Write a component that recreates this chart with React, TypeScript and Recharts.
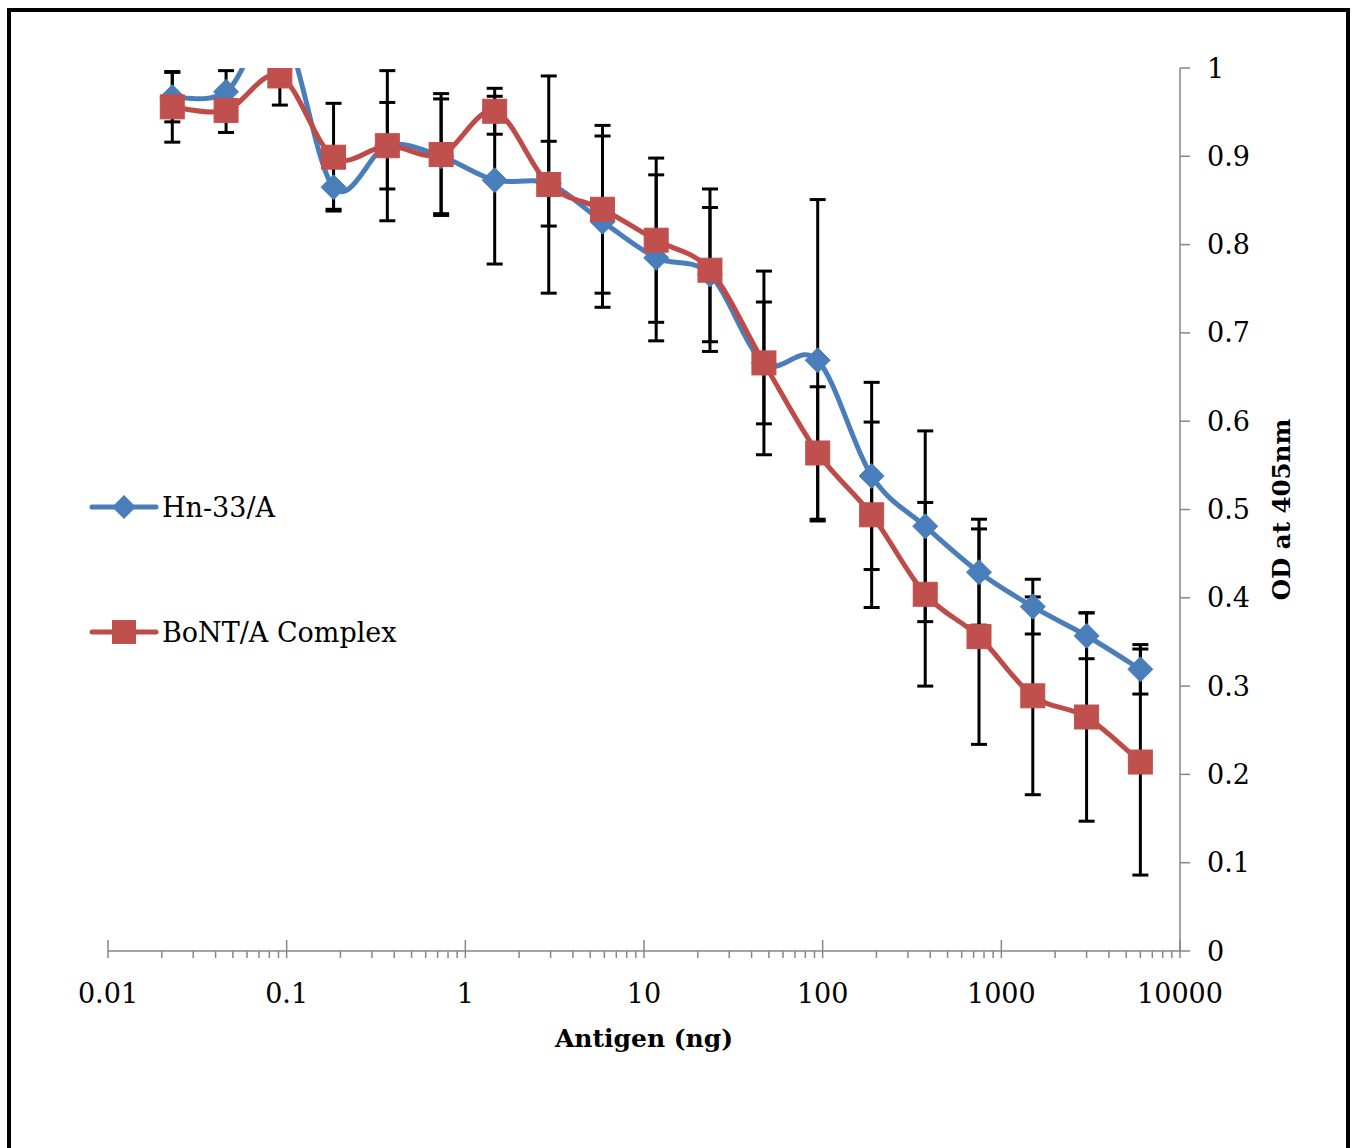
import React from 'react';
import { ComposedChart, Line, XAxis, YAxis, ErrorBar, Legend } from 'recharts';

// Antigen amount (ng), two-fold dilution series
const antigen = [0.0229, 0.0458, 0.0916, 0.183, 0.366, 0.732, 1.46, 2.93, 5.86, 11.7, 23.4, 46.9, 93.8, 188, 375, 750, 1500, 3000, 6000];
// Hn-33/A OD at 405nm and error
const hnValues = [0.967, 0.973, 1.05, 0.865, 0.912, 0.900, 0.873, 0.869, 0.826, 0.785, 0.766, 0.666, 0.669, 0.538, 0.481, 0.429, 0.390, 0.357, 0.319];
const hnErrors = [0.028, 0.024, 0.03, 0.025, 0.049, 0.065, 0.095, 0.048, 0.097, 0.094, 0.076, 0.069, 0.182, 0.106, 0.108, 0.060, 0.031, 0.026, 0.028];
// BoNT/A Complex OD at 405nm and error
const bontValues = [0.956, 0.952, 0.991, 0.899, 0.912, 0.902, 0.951, 0.868, 0.840, 0.805, 0.771, 0.666, 0.564, 0.494, 0.404, 0.356, 0.289, 0.265, 0.214];
const bontErrors = [0.040, 0.025, 0.033, 0.061, 0.085, 0.069, 0.026, 0.123, 0.095, 0.093, 0.092, 0.104, 0.075, 0.105, 0.104, 0.122, 0.112, 0.118, 0.128];

const xMajorTicks = [0.01, 0.1, 1, 10, 100, 1000, 10000];
const xTickLabels = ['0.01', '0.1', '1', '10', '100', '1000', '10000'];
const yTicks = [0, 0.1, 0.2, 0.3, 0.4, 0.5, 0.6, 0.7, 0.8, 0.9, 1];
const seriesNames = ['Hn-33/A', 'BoNT/A Complex'];

const BLUE = '#4A7EBB';
const RED = '#BE4B48';
const AXIS = '#868686';
const FONT = "'DejaVu Serif', serif";

const CHART_W = 1352;
const CHART_H = 1148;
const MARGIN = { top: 68, left: 108, right: 52, bottom: 97 };
const Y_AXIS_W = 120;
const X_AXIS_H = 100;
const PLOT = {
  x: MARGIN.left,
  y: MARGIN.top,
  w: CHART_W - MARGIN.left - MARGIN.right - Y_AXIS_W,
  h: CHART_H - MARGIN.top - MARGIN.bottom - X_AXIS_H,
};

const xMinorTicks: number[] = [];
xMajorTicks.slice(0, -1).forEach((m) => {
  for (let k = 2; k <= 9; k++) xMinorTicks.push(parseFloat((m * k).toPrecision(3)));
});
const xAllTicks = [...xMajorTicks, ...xMinorTicks].sort((a, b) => a - b);

const data = antigen.map((x, i) => ({
  x,
  hn: hnValues[i],
  hnErr: hnErrors[i],
  bont: bontValues[i],
  bontErr: bontErrors[i],
}));

// Excel-like smoothed line (Catmull-Rom bezier)
function smoothCurve(context: any) {
  let pts: number[][] = [];
  return {
    areaStart() {},
    areaEnd() {},
    lineStart() {
      pts = [];
    },
    point(x: number, y: number) {
      pts.push([+x, +y]);
    },
    lineEnd() {
      const n = pts.length;
      if (!n) return;
      context.moveTo(pts[0][0], pts[0][1]);
      for (let i = 0; i < n - 1; i++) {
        const p0 = pts[Math.max(i - 1, 0)];
        const p1 = pts[i];
        const p2 = pts[i + 1];
        const p3 = pts[Math.min(i + 2, n - 1)];
        const c1x = p1[0] + (p2[0] - p0[0]) / 6;
        const c1y = p1[1] + (p2[1] - p0[1]) / 6;
        const c2x = p2[0] - (p3[0] - p1[0]) / 6;
        const c2y = p2[1] - (p3[1] - p1[1]) / 6;
        context.bezierCurveTo(c1x, c1y, c2x, c2y, p2[0], p2[1]);
      }
    },
  };
}

const Diamond = (props: any) => {
  const { cx, cy, index } = props;
  if (cx == null || cy == null) return <g key={`d${index}`} />;
  const r = 12.5;
  return (
    <path
      key={`d${index}`}
      d={`M${cx},${cy - r}L${cx + r},${cy}L${cx},${cy + r}L${cx - r},${cy}Z`}
      fill={BLUE}
      stroke={BLUE}
      strokeWidth={1}
    />
  );
};

const Square = (props: any) => {
  const { cx, cy, index } = props;
  if (cx == null || cy == null) return <g key={`s${index}`} />;
  const h = 12;
  return <rect key={`s${index}`} x={cx - h} y={cy - h} width={2 * h} height={2 * h} fill="#C0504D" stroke="#C0504D" strokeWidth={1} />;
};

const XTick = (props: any) => {
  const { x, y, payload } = props;
  const v = payload.value;
  const idx = xMajorTicks.indexOf(v);
  const major = idx >= 0;
  return (
    <g>
      <line x1={x} x2={x} y1={major ? y - 11 : y} y2={y + 7} stroke={AXIS} strokeWidth={1.5} />
      {major && (
        <text x={x} y={y + 52} textAnchor="middle" fill="#000" fontSize={27} fontFamily={FONT}>
          {xTickLabels[idx]}
        </text>
      )}
    </g>
  );
};

const LegendContent = () => (
  <div style={{ fontFamily: FONT, fontSize: 27, color: '#000' }}>
    <div style={{ display: 'flex', alignItems: 'center', height: 44 }}>
      <svg width={72} height={30} style={{ display: 'block' }}>
        <line x1={4} x2={68} y1={15} y2={15} stroke={BLUE} strokeWidth={5} strokeLinecap="round" />
        <path d="M36,3L48,15L36,27L24,15Z" fill={BLUE} />
      </svg>
      <span style={{ marginLeft: 2 }}>{seriesNames[0]}</span>
    </div>
    <div style={{ height: 81 }} />
    <div style={{ display: 'flex', alignItems: 'center', height: 44 }}>
      <svg width={72} height={30} style={{ display: 'block' }}>
        <line x1={4} x2={68} y1={15} y2={15} stroke={RED} strokeWidth={5} strokeLinecap="round" />
        <rect x={24} y={3} width={24} height={24} fill="#C0504D" />
      </svg>
      <span style={{ marginLeft: 2 }}>{seriesNames[1]}</span>
    </div>
  </div>
);

export default function App() {
  return (
    <div style={{ position: 'absolute', left: 0, top: 0, width: CHART_W, height: CHART_H, background: '#fff', overflow: 'hidden' }}>
      <style>{`.recharts-errorBars, .recharts-errorBar { clip-path: url(#plotAreaClip); }`}</style>
      <svg width={0} height={0} style={{ position: 'absolute' }}>
        <defs>
          <clipPath id="plotAreaClip" clipPathUnits="userSpaceOnUse">
            <rect x={PLOT.x} y={PLOT.y} width={PLOT.w} height={PLOT.h} />
          </clipPath>
        </defs>
      </svg>
      <div
        style={{
          position: 'absolute',
          left: 7,
          top: 8,
          width: 1343,
          height: 1140,
          boxSizing: 'border-box',
          borderTop: '4px solid #000',
          borderLeft: '4px solid #000',
          borderRight: '4px solid #000',
        }}
      />
      <div style={{ position: 'absolute', left: 0, top: 0 }}>
        <ComposedChart width={CHART_W} height={CHART_H} data={data} margin={MARGIN}>
          <XAxis
            dataKey="x"
            type="number"
            scale="log"
            domain={[0.01, 10000]}
            allowDataOverflow
            ticks={xAllTicks}
            interval={0}
            tick={<XTick />}
            tickLine={false}
            tickSize={0}
            tickMargin={0}
            height={X_AXIS_H}
            axisLine={{ stroke: AXIS, strokeWidth: 1.5 }}
            label={{
              content: (p: any) => {
                const vb = p.viewBox || { x: PLOT.x, y: PLOT.y + PLOT.h, width: PLOT.w };
                return (
                  <text
                    x={vb.x + vb.width / 2}
                    y={vb.y + 96}
                    textAnchor="middle"
                    fontFamily={FONT}
                    fontWeight="bold"
                    fontSize={25}
                    fill="#000"
                  >
                    Antigen (ng)
                  </text>
                );
              },
            }}
          />
          <YAxis
            orientation="right"
            type="number"
            domain={[0, 1]}
            allowDataOverflow
            ticks={yTicks}
            interval={0}
            width={Y_AXIS_W}
            tickSize={10}
            tickMargin={17}
            tickLine={{ stroke: AXIS, strokeWidth: 1.5 }}
            axisLine={{ stroke: AXIS, strokeWidth: 1.5 }}
            tick={{ fill: '#000', fontSize: 27, fontFamily: FONT }}
            label={{
              content: (p: any) => {
                const vb = p.viewBox || { x: PLOT.x + PLOT.w, y: PLOT.y, width: Y_AXIS_W, height: PLOT.h };
                const cx = vb.x + 101;
                const cy = vb.y + vb.height / 2;
                return (
                  <text
                    x={cx}
                    y={cy}
                    transform={`rotate(-90 ${cx} ${cy})`}
                    textAnchor="middle"
                    dominantBaseline="central"
                    fontFamily={FONT}
                    fontWeight="bold"
                    fontSize={24.5}
                    fill="#000"
                  >
                    OD at 405nm
                  </text>
                );
              },
            }}
          />
          <Legend
            layout="horizontal"
            verticalAlign="middle"
            align="center"
            content={<LegendContent />}
            wrapperStyle={{ position: 'absolute', left: 88, top: 485, width: 420, height: 180 }}
          />
          <Line
            dataKey="hn"
            name={seriesNames[0]}
            type={smoothCurve as any}
            stroke={BLUE}
            strokeWidth={5}
            dot={Diamond}
            activeDot={false}
            isAnimationActive={false}
          />
          <Line
            dataKey="bont"
            name={seriesNames[1]}
            type={smoothCurve as any}
            stroke={RED}
            strokeWidth={5}
            dot={Square}
            activeDot={false}
            isAnimationActive={false}
          />
          <Line dataKey="hn" stroke="none" dot={false} activeDot={false} legendType="none" isAnimationActive={false}>
            <ErrorBar dataKey="hnErr" direction="y" stroke="#000" strokeWidth={3} width={8} />
          </Line>
          <Line dataKey="bont" stroke="none" dot={false} activeDot={false} legendType="none" isAnimationActive={false}>
            <ErrorBar dataKey="bontErr" direction="y" stroke="#000" strokeWidth={3} width={8} />
          </Line>
        </ComposedChart>
      </div>
    </div>
  );
}
